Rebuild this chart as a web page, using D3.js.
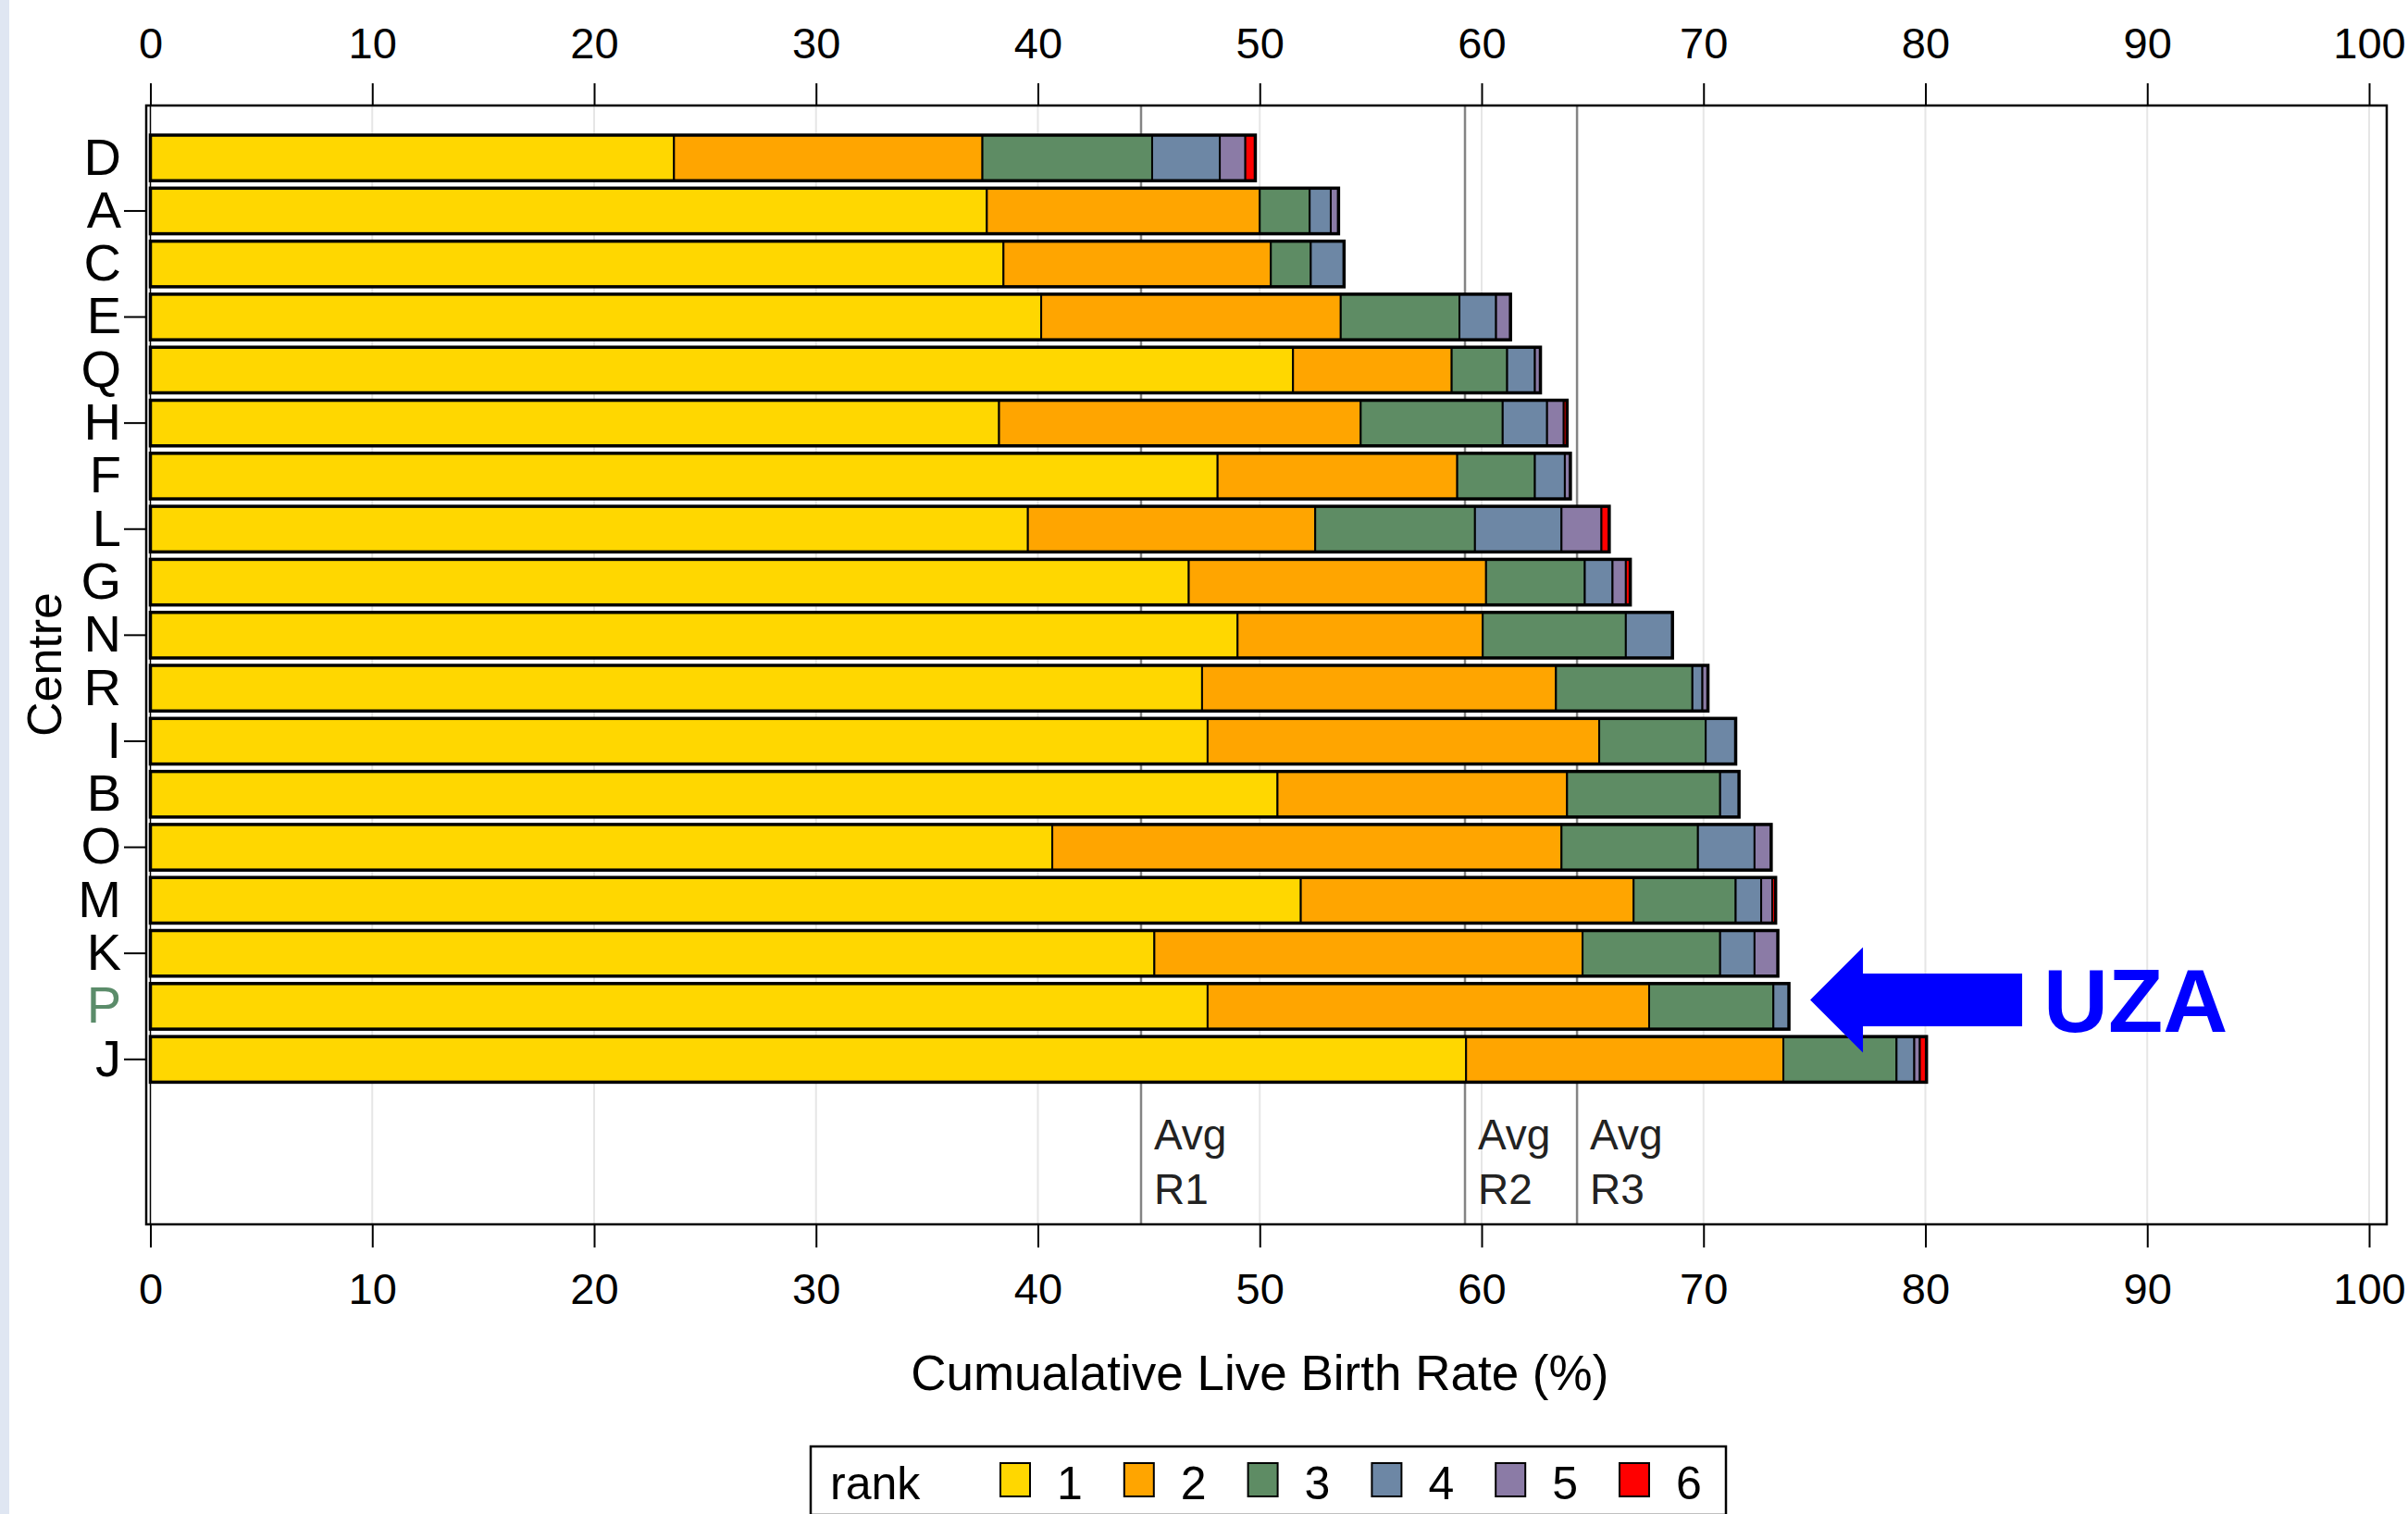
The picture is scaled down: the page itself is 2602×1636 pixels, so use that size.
<!DOCTYPE html>
<html>
<head>
<meta charset="utf-8">
<script src="https://cdn.jsdelivr.net/npm/d3@7"></script>
<style>
    body { margin: 0; background: #fff; }
    text { font-family: "Liberation Sans", Arial, sans-serif; fill: #000; }
</style>
</head>
<body>
<div id="chart"></div>
<script>
// Centres, top to bottom
const centres = ["D", "A", "C", "E", "Q", "H", "F", "L", "G", "N", "R", "I", "B", "O", "M", "K", "P", "J"];

// Live birth rate contributed by each rank (%)
const rank1 = [23.6, 37.7, 38.45, 40.15, 51.5, 38.25, 48.1, 39.55, 46.8, 49.0, 47.4, 47.65, 50.8, 40.65, 51.85, 45.25, 47.65, 59.3];
const rank2 = [13.9, 12.3, 12.05, 13.5, 7.15, 16.3, 10.8, 12.95, 13.4, 11.05, 15.95, 17.65, 13.05, 22.95, 15.0, 19.3, 19.9, 14.3];
const rank3 = [7.65, 2.25, 1.8, 5.35, 2.5, 6.4, 3.5, 7.2, 4.45, 6.45, 6.15, 4.8, 6.9, 6.15, 4.6, 6.2, 5.6, 5.1];
const rank4 = [3.05, 0.95, 1.5, 1.65, 1.25, 2.0, 1.35, 3.9, 1.25, 2.1, 0.45, 1.35, 0.85, 2.55, 1.15, 1.55, 0.7, 0.8];
const rank5 = [1.15, 0.35, 0, 0.65, 0.25, 0.75, 0.25, 1.8, 0.6, 0, 0.25, 0, 0, 0.75, 0.5, 1.05, 0, 0.25];
const rank6 = [0.45, 0, 0, 0, 0, 0.15, 0, 0.35, 0.2, 0, 0, 0, 0, 0, 0.15, 0, 0, 0.3];

const rankNames = ["1", "2", "3", "4", "5", "6"];
const rankColors = ["#FFD700", "#FFA500", "#5E8C64", "#6D87A5", "#8B7BA6", "#FF0000"];

// Average reference lines
const avgValues = [44.65, 59.25, 64.3];
const avgLabels = ["R1", "R2", "R3"];

const xTicks = [0, 10, 20, 30, 40, 50, 60, 70, 80, 90, 100];
const highlight = "P"; // UZA centre

const W = 2602, H = 1636;
const frame = {left: 158, top: 114, right: 2579, bottom: 1323};

const svg = d3.select("#chart")
    .append("svg")
        .attr("width", W)
        .attr("height", H);

svg.append("rect").attr("width", W).attr("height", H).attr("fill", "#fff");
svg.append("rect").attr("width", 10).attr("height", H).attr("fill", "#dfe6f2"); // left edge strip

const x = d3.scaleLinear()
    .domain([0, 100])
    .range([162.5, 2560]);

const y = d3.scaleBand()
    .domain(centres)
    .range([142, 142 + 18 * 57.3])
    .paddingInner(0.14)
    .paddingOuter(0.07);

// Gridlines
svg.append("g")
    .selectAll("line")
    .data(xTicks.slice(1))
    .enter().append("line")
        .attr("x1", d => x(d)).attr("x2", d => x(d))
        .attr("y1", frame.top).attr("y2", frame.bottom)
        .attr("stroke", "#e6e6e6")
        .attr("stroke-width", 2);

// Avg reference lines
svg.append("g")
    .selectAll("line")
    .data(avgValues)
    .enter().append("line")
        .attr("x1", d => x(d)).attr("x2", d => x(d))
        .attr("y1", frame.top).attr("y2", frame.bottom)
        .attr("stroke", "#848484")
        .attr("stroke-width", 2.5);

const avgText = svg.append("g")
    .selectAll("text")
    .data(avgValues)
    .enter().append("text")
        .attr("x", d => x(d) + 14)
        .attr("y", 1242)
        .style("font-size", "46px")
        .style("fill", "#222");
avgText.append("tspan").text("Avg");
avgText.append("tspan")
    .attr("x", d => x(d) + 14)
    .attr("dy", 59)
    .text((d, i) => avgLabels[i]);

// Stacked bars
const table = centres.map((c, i) => ({
    centre: c, "1": rank1[i], "2": rank2[i], "3": rank3[i],
    "4": rank4[i], "5": rank5[i], "6": rank6[i]
}));
const series = d3.stack().keys(rankNames)(table);

svg.append("g")
    .selectAll("g")
    .data(series)
    .enter().append("g")
        .attr("fill", (d, i) => rankColors[i])
    .selectAll("rect")
    .data(d => d.filter(s => s[1] - s[0] > 0))
    .enter().append("rect")
        .attr("x", d => x(d[0]))
        .attr("y", d => y(d.data.centre))
        .attr("width", d => x(d[1]) - x(d[0]))
        .attr("height", y.bandwidth())
        .attr("stroke", "#000")
        .attr("stroke-width", 2);

// Outline round each whole bar
svg.append("g")
    .selectAll("rect")
    .data(table)
    .enter().append("rect")
        .attr("x", x(0))
        .attr("y", d => y(d.centre))
        .attr("width", d => x(d3.sum(rankNames, k => d[k])) - x(0))
        .attr("height", y.bandwidth())
        .attr("fill", "none")
        .attr("stroke", "#000")
        .attr("stroke-width", 3.5);

// Frame
svg.append("rect")
    .attr("x", frame.left).attr("y", frame.top)
    .attr("width", frame.right - frame.left)
    .attr("height", frame.bottom - frame.top)
    .attr("fill", "none")
    .attr("stroke", "#000")
    .attr("stroke-width", 2.5);
svg.append("line")
    .attr("x1", x(0)).attr("x2", x(0))
    .attr("y1", frame.top).attr("y2", frame.bottom)
    .attr("stroke", "#000")
    .attr("stroke-width", 1.5);

// X axes, top and bottom
function styleAxis(g) {
    g.select(".domain").remove();
    g.selectAll(".tick line").attr("stroke", "#000").attr("stroke-width", 2);
    g.selectAll(".tick text")
        .style("font-family", "'Liberation Sans', Arial, sans-serif")
        .style("font-size", "47px");
}

svg.append("g")
    .attr("transform", `translate(0,${frame.top})`)
    .call(d3.axisTop(x).tickValues(xTicks).tickSize(24).tickPadding(27))
    .call(styleAxis);

svg.append("g")
    .attr("transform", `translate(0,${frame.bottom})`)
    .call(d3.axisBottom(x).tickValues(xTicks).tickSize(25).tickPadding(28))
    .call(styleAxis);

// Y axis with centre letters
const yAxis = svg.append("g")
    .attr("transform", `translate(${frame.left},0)`)
    .call(d3.axisLeft(y).tickSize(24).tickPadding(3));
yAxis.select(".domain").remove();
yAxis.selectAll(".tick line")
    .attr("stroke", "#000")
    .attr("stroke-width", 2)
    .attr("opacity", (d, i) => i % 2 === 1 ? 1 : 0); // ticks on alternate centres
yAxis.selectAll(".tick text")
    .style("font-family", "'Liberation Sans', Arial, sans-serif")
    .style("font-size", "56px")
    .style("fill", d => d === highlight ? "#5b8c6a" : "#000"); // UZA centre in green

// Axis titles
svg.append("text")
    .attr("x", x(50))
    .attr("y", 1502)
    .attr("text-anchor", "middle")
    .style("font-size", "53px")
    .text("Cumualative Live Birth Rate (%)");

svg.append("text")
    .attr("transform", "translate(66,718) rotate(-90)")
    .attr("text-anchor", "middle")
    .style("font-size", "52px")
    .text("Centre");

// UZA arrow pointing at the highlighted centre
const hiIdx = centres.indexOf(highlight);
const tipX = x(d3.sum(rankNames, k => table[hiIdx][k])) + 23;
const cy = y(highlight) + y.bandwidth() / 2 - 7;
const arrow = [
    [tipX, cy],
    [tipX + 57, cy - 57],
    [tipX + 57, cy - 28.5],
    [tipX + 229, cy - 28.5],
    [tipX + 229, cy + 28.5],
    [tipX + 57, cy + 28.5],
    [tipX + 57, cy + 57]
];
svg.append("polygon")
    .attr("points", arrow.map(p => p.join(",")).join(" "))
    .attr("fill", "#0000FF");

svg.append("text")
    .attr("x", tipX + 252)
    .attr("y", cy + 35)
    .style("font-size", "97px")
    .style("font-weight", "bold")
    .style("fill", "#0000FF")
    .text("UZA");

// Legend
const legend = svg.append("g");
legend.append("rect")
    .attr("x", 876).attr("y", 1563)
    .attr("width", 989).attr("height", 74)
    .attr("fill", "#fff")
    .attr("stroke", "#000")
    .attr("stroke-width", 2.5);
legend.append("text")
    .attr("x", 897)
    .attr("y", 1620)
    .style("font-size", "50px")
    .text("rank");

const items = legend.selectAll(".item")
    .data(rankNames)
    .enter().append("g")
        .attr("class", "item")
        .attr("transform", (d, i) => `translate(${1081 + i * 133.8},0)`);
items.append("rect")
    .attr("y", 1581)
    .attr("width", 32).attr("height", 36)
    .attr("fill", (d, i) => rankColors[i])
    .attr("stroke", "#000")
    .attr("stroke-width", 2);
items.append("text")
    .attr("x", 61)
    .attr("y", 1620)
    .style("font-size", "50px")
    .text(d => d);
</script>
</body>
</html>
